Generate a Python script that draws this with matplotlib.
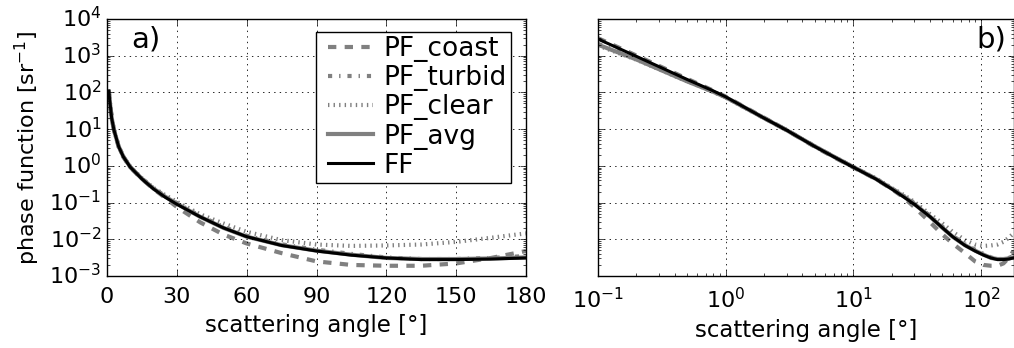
import numpy as np
import matplotlib
matplotlib.use("Agg")
import matplotlib.pyplot as plt
from matplotlib.ticker import LogLocator, NullFormatter

plt.style.use('classic')
plt.rcParams.update({
    'font.family': ['DejaVu Sans'],
    'mathtext.fontset': 'dejavusans',
    'axes.unicode_minus': False,
    'figure.facecolor': 'white',
    'savefig.facecolor': 'white',
    'font.size': 15,
})

# scattering angles [deg]
angle = [0.1, 0.2, 0.5, 0.8, 1, 2, 3, 5, 7, 10, 15, 20, 25, 30, 40, 50, 60,
         75, 90, 105, 120, 135, 150, 165, 180]

pf_coast = [3000, 1010, 235, 112, 77, 20.5, 9.4, 3.3, 1.75, 0.91, 0.44, 0.235,
            0.135, 0.076, 0.029, 0.0135, 0.0077, 0.0042, 0.0025, 0.0020,
            0.0019, 0.0019, 0.0022, 0.0031, 0.0048]
pf_turbid = [2100, 820, 205, 105, 74, 20, 9.5, 3.4, 1.8, 0.93, 0.45, 0.245,
             0.15, 0.097, 0.043, 0.022, 0.0125, 0.0073, 0.0052, 0.0040,
             0.0032, 0.0029, 0.0029, 0.0031, 0.0035]
pf_clear = [1900, 780, 200, 104, 73, 20, 9.5, 3.4, 1.8, 0.94, 0.46, 0.25,
            0.16, 0.105, 0.048, 0.027, 0.0160, 0.0095, 0.0072, 0.0066,
            0.0068, 0.0072, 0.0085, 0.0110, 0.0145]
pf_avg = [2000, 790, 200, 104, 74, 20, 9.4, 3.4, 1.8, 0.93, 0.445, 0.24,
          0.145, 0.093, 0.041, 0.0205, 0.0118, 0.0069, 0.0049, 0.0038,
          0.0031, 0.0029, 0.0029, 0.0030, 0.0032]
ff = [2850, 960, 225, 110, 76, 20, 9.4, 3.36, 1.78, 0.92, 0.44, 0.235,
      0.14, 0.090, 0.041, 0.0205, 0.0118, 0.0068, 0.0048, 0.0037,
      0.0031, 0.0028, 0.0028, 0.0029, 0.0031]

series = [
    ('PF_coast', pf_coast, dict(color='0.5', lw=3, ls='--')),
    ('PF_turbid', pf_turbid, dict(color='0.5', lw=3, ls='-.')),
    ('PF_clear', pf_clear, dict(color='0.5', lw=3, ls=':')),
    ('PF_avg', pf_avg, dict(color='0.5', lw=3, ls='-')),
    ('FF', ff, dict(color='black', lw=2.2, ls='-')),
]

fig = plt.figure(figsize=(10.14, 3.48), dpi=100)
W, H = 1014, 348
axa = fig.add_axes([107/W, 1-276/H, 419/W, 257/H])
axb = fig.add_axes([598/W, 1-276/H, 415.5/W, 257/H])

ang = np.array(angle)
mask = ang >= 0.8
for name, vals, st in series:
    v = np.array(vals)
    axa.plot(ang[mask], v[mask], label=name, **st)
    axb.plot(ang, v, **st)

for ax in (axa, axb):
    ax.set_yscale('log')
    ax.set_ylim(1e-3, 1e4)
    ax.yaxis.set_major_locator(LogLocator(base=10, numticks=20))
    ax.yaxis.set_minor_locator(LogLocator(base=10, subs=np.arange(2, 10), numticks=20))
    ax.grid(True, which='major', color='black', linestyle=':', linewidth=0.6)
    ax.tick_params(labelsize=16)
    ax.tick_params(axis='x', pad=8)
    ax.set_xlabel('scattering angle [°]', fontsize=16.5)

axa.set_xlim(0, 180)
axa.set_xticks([0, 30, 60, 90, 120, 150, 180])
axa.set_ylabel('phase function [sr$^{-1}$]', fontsize=16)

axb.set_xscale('log')
axb.set_xlim(0.1, 180)
axb.xaxis.set_major_locator(LogLocator(base=10, numticks=20))
axb.xaxis.set_minor_locator(LogLocator(base=10, subs=np.arange(2, 10), numticks=20))
axb.yaxis.set_major_formatter(NullFormatter())
axb.yaxis.set_minor_formatter(NullFormatter())

axa.text(0.058, 0.975, 'a)', transform=axa.transAxes, fontsize=21, va='top', ha='left')
axb.text(0.982, 0.975, 'b)', transform=axb.transAxes, fontsize=21, va='top', ha='right')

leg = axa.legend(loc='upper right', bbox_to_anchor=(0.964, 0.949), fontsize=19,
                 handlelength=2.3, handletextpad=0.1, borderpad=0.15,
                 labelspacing=0.12, borderaxespad=0.0, frameon=True, fancybox=False)
leg.get_frame().set_edgecolor('black')

fig.savefig('out.png', dpi=100)
